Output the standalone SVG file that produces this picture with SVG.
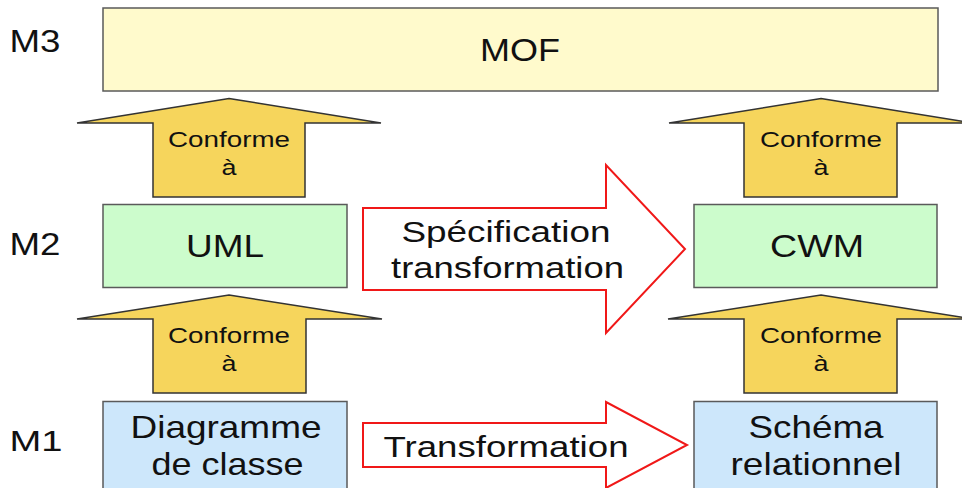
<svg xmlns="http://www.w3.org/2000/svg" width="962" height="488" viewBox="0 0 962 488">
  <style>
    text { font-family: "Liberation Sans", Arial, sans-serif; fill: #111; }
    .box { stroke: #5a5a5a; stroke-width: 1.5; }
    .meta { fill: #fffacc; }
    .model { fill: #ccfccc; }
    .inst { fill: #cde7fb; }
    .conf { fill: #f6d55c; stroke: #333; stroke-width: 1.5; stroke-linejoin: miter; }
    .trans { fill: #fff; stroke: #f01818; stroke-width: 2; stroke-linejoin: miter; }
    .lvl { font-size: 31px; }
    .big { font-size: 32px; }
    .small { font-size: 22px; }
  </style>
  <rect width="962" height="488" fill="#fff"/>

  <!-- level labels -->
  <g id="levels">
    <text class="lvl" x="9.5" y="52" textLength="51" lengthAdjust="spacingAndGlyphs">M3</text>
    <text class="lvl" x="9.5" y="255" textLength="51" lengthAdjust="spacingAndGlyphs">M2</text>
    <text class="lvl" x="9.5" y="451" textLength="53" lengthAdjust="spacingAndGlyphs" style="font-size:30px">M1</text>
  </g>

  <!-- conformance and transformation arrows -->
  <g id="connectors">
    <g id="conf-uml-mof">
      <path class="conf" d="M229,98.5 L381,123 L305,123 L305,197 L153,197 L153,123 L77,123 Z"/>
      <text class="small" x="229" y="147" text-anchor="middle" textLength="122" lengthAdjust="spacingAndGlyphs">Conforme</text>
      <text class="small" x="229" y="175" text-anchor="middle" textLength="15" lengthAdjust="spacingAndGlyphs">à</text>
    </g>
    <g id="conf-cwm-mof">
      <path class="conf" d="M821,98.5 L973,123 L897,123 L897,197 L744,197 L744,123 L669,123 Z"/>
      <text class="small" x="821" y="147" text-anchor="middle" textLength="122" lengthAdjust="spacingAndGlyphs">Conforme</text>
      <text class="small" x="821" y="175" text-anchor="middle" textLength="15" lengthAdjust="spacingAndGlyphs">à</text>
    </g>
    <g id="conf-diag-uml">
      <path class="conf" d="M229,295 L382,319 L306,319 L306,393 L153,393 L153,319 L77,319 Z"/>
      <text class="small" x="229" y="343" text-anchor="middle" textLength="122" lengthAdjust="spacingAndGlyphs">Conforme</text>
      <text class="small" x="229" y="371" text-anchor="middle" textLength="15" lengthAdjust="spacingAndGlyphs">à</text>
    </g>
    <g id="conf-schema-cwm">
      <path class="conf" d="M821,295 L973,319 L897,319 L897,393 L744,393 L744,319 L668,319 Z"/>
      <text class="small" x="821" y="343" text-anchor="middle" textLength="122" lengthAdjust="spacingAndGlyphs">Conforme</text>
      <text class="small" x="821" y="371" text-anchor="middle" textLength="15" lengthAdjust="spacingAndGlyphs">à</text>
    </g>
    <g id="spec-transformation">
      <path class="trans" d="M363,208 L606,208 L606,165 L685,249 L606,333 L606,290 L363,290 Z"/>
      <text x="506" y="242" text-anchor="middle" style="font-size:29px" textLength="209" lengthAdjust="spacingAndGlyphs">Spécification</text>
      <text x="507.5" y="278" text-anchor="middle" style="font-size:29px" textLength="233" lengthAdjust="spacingAndGlyphs">transformation</text>
    </g>
    <g id="transformation">
      <path class="trans" d="M363,423 L606,423 L606,402 L687,445 L606,488 L606,467 L363,467 Z"/>
      <text x="506" y="457" text-anchor="middle" style="font-size:30px" textLength="245" lengthAdjust="spacingAndGlyphs">Transformation</text>
    </g>
  </g>

  <!-- models -->
  <g id="MOF">
    <rect class="box meta" x="103" y="8" width="835" height="83"/>
    <text class="big" x="520" y="61" text-anchor="middle" textLength="80" lengthAdjust="spacingAndGlyphs">MOF</text>
  </g>
  <g id="UML">
    <rect class="box model" x="103" y="204.5" width="244" height="83"/>
    <text class="big" x="225" y="257" text-anchor="middle" textLength="78" lengthAdjust="spacingAndGlyphs">UML</text>
  </g>
  <g id="CWM">
    <rect class="box model" x="694" y="204.5" width="243" height="83"/>
    <text class="big" x="817" y="257" text-anchor="middle" textLength="94" lengthAdjust="spacingAndGlyphs">CWM</text>
  </g>
  <g id="DiagrammeDeClasse">
    <rect class="box inst" x="103" y="401.5" width="244" height="88"/>
    <text class="big" x="226" y="438" text-anchor="middle" textLength="191" lengthAdjust="spacingAndGlyphs">Diagramme</text>
    <text class="big" x="227.5" y="475" text-anchor="middle" textLength="152" lengthAdjust="spacingAndGlyphs">de classe</text>
  </g>
  <g id="SchemaRelationnel">
    <rect class="box inst" x="694" y="401.5" width="243" height="88"/>
    <text class="big" x="816" y="438" text-anchor="middle" textLength="135" lengthAdjust="spacingAndGlyphs">Schéma</text>
    <text class="big" x="816" y="475" text-anchor="middle" textLength="171" lengthAdjust="spacingAndGlyphs">relationnel</text>
  </g>
</svg>
